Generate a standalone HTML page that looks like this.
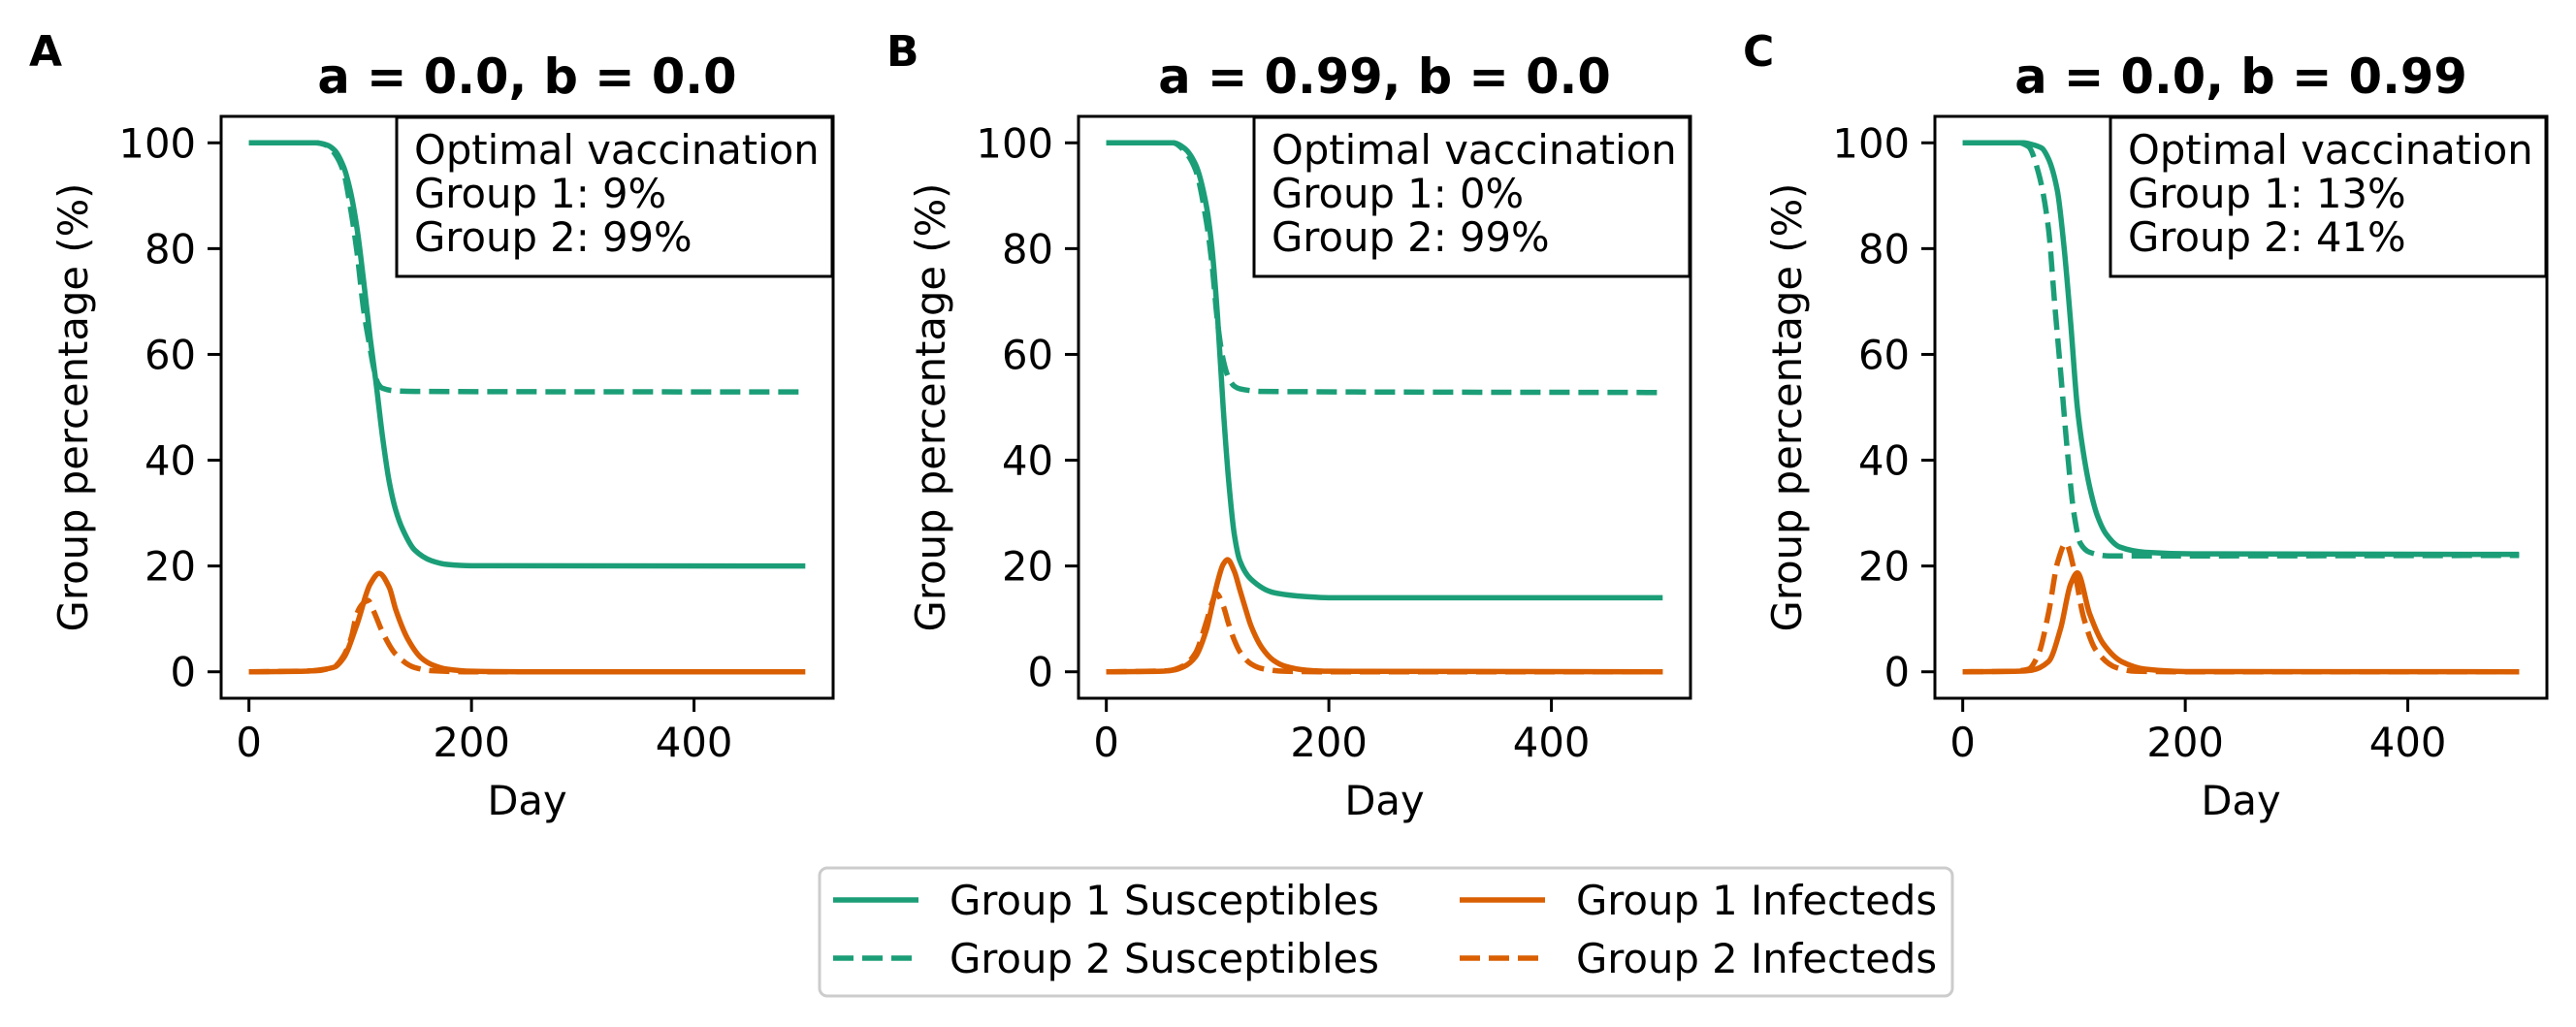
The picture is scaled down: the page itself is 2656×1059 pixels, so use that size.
<!DOCTYPE html>
<html><head><meta charset="utf-8"><style>
html,body{margin:0;padding:0;background:#fff;}
svg{display:block;font-family:"DejaVu Sans","Liberation Sans",sans-serif;}
</style></head><body>
<svg id="fig" width="2656" height="1059" viewBox="0 0 2656 1059" xmlns="http://www.w3.org/2000/svg"></svg>
<script>
// ---- data ----
const panelLetters = ["A","B","C"];
const panelTitles = ["a = 0.0, b = 0.0","a = 0.99, b = 0.0","a = 0.0, b = 0.99"];
const vaccG1 = ["9%","0%","13%"];
const vaccG2 = ["99%","99%","41%"];
const xTicks = [0,200,400];
const yTicks = [0,20,40,60,80,100];
const seriesNames = ["Group 1 Susceptibles","Group 2 Susceptibles","Group 1 Infecteds","Group 2 Infecteds"];

// Panel A
const A_S1_days = [0,60,70,77,85,91,97,103,109,114,120,126,132,138,149,164,178,200,500];
const A_S1_vals = [100,100,99.6,98.6,95.5,91,84,74,63,55,44.5,36,30.5,27,23,21,20.3,20.05,20];
const A_S2_days = [0,60,70,77,85,91,97,103,109,112,116,120,132,150,500];
const A_S2_vals = [100,100,99.5,98,94.5,88,79.5,68.5,61,57.5,54.5,53.6,53.1,53,52.9];
const A_I1_days = [0,50,65,77,85,97,109,117,126,132,143,155,165,178,200,250,500];
const A_I1_vals = [0,0.1,0.4,0.9,2.6,8.9,16.6,18.6,16,11.7,6.1,2.6,1.3,0.5,0.1,0,0];
const A_I2_days = [0,60,77,85,92,97,102,107,112,120,132,149,165,200,500];
const A_I2_vals = [0,0.2,1,3,6.5,11,12.8,13.5,11.5,7.5,3.3,0.8,0.2,0,0];
// Panel B
const B_S1_days = [0,60,70,80,90,95,100,105,110,115,120,130,150,180,200,500];
const B_S1_vals = [100,100,99,96,88,80,67,50,36,26,21,17.5,15,14.2,14,14];
const B_S2_days = [0,60,70,80,90,95,100,105,110,115,120,140,500];
const B_S2_vals = [100,100,98.5,95,85,77,66,59,55.5,54,53.5,53,52.8];
const B_I1_days = [0,50,60,70,80,90,95,100,105,109,115,120,125,130,140,150,160,180,200,500];
const B_I1_vals = [0,0.1,0.3,1,2.8,8,12.5,17,20.3,21.2,19,15.5,12,8.7,4.5,2.2,1.1,0.3,0.1,0];
const B_I2_days = [0,55,70,80,90,95,99,105,110,115,120,130,140,160,200,500];
const B_I2_vals = [0,0.2,1.2,3.5,9.5,13,14.8,12.5,9,6,3.8,1.5,0.6,0.1,0,0];
// Panel C
const C_S1_days = [0,55,62,71,77,85,91,97,103,108,114,121,129,141,164,207,500];
const C_S1_vals = [100,100,99.7,99,97,91,80.4,66,50,42,35,29.5,26,23.6,22.6,22.3,22.2];
const C_S2_days = [0,50,59,68,77,82.5,88.3,94,100,105.7,114,132,500];
const C_S2_vals = [100,100,99.3,94.4,83.9,69.9,55.9,41.8,29.9,24.3,22.6,21.9,22];
const C_I1_days = [0,50,62,77,88,97,103,114,126,143,164,200,500];
const C_I1_vals = [0,0.1,0.3,1.9,8.2,16.6,18.7,11,5.4,1.9,0.5,0.05,0];
const C_I2_days = [0,45,59,68,77,85.4,92.6,100,108.6,120,138,155,200,500];
const C_I2_vals = [0,0.1,0.5,3.3,11,20.8,24.3,19.4,10.3,4,0.8,0.1,0,0];

const panelSeries = [
  [[A_S1_days,A_S1_vals],[A_S2_days,A_S2_vals],[A_I1_days,A_I1_vals],[A_I2_days,A_I2_vals]],
  [[B_S1_days,B_S1_vals],[B_S2_days,B_S2_vals],[B_I1_days,B_I1_vals],[B_I2_days,B_I2_vals]],
  [[C_S1_days,C_S1_vals],[C_S2_days,C_S2_vals],[C_I1_days,C_I1_vals],[C_I2_days,C_I2_vals]]
];

// ---- layout ----
const GREEN="#1b9e77", ORANGE="#d95f02";
const seriesColor=[GREEN,GREEN,ORANGE,ORANGE];
const seriesDash=[null,"21 9",null,"21 9"];
const panelLeft=[228,1112,1995];
const PW=631, PT=120, PB=720;
const XMIN=-25, XMAX=525, YMIN=-5, YMAX=105;
const NS="http://www.w3.org/2000/svg";
const svg=document.getElementById('fig');
function mk(tag,attrs,parent){const e=document.createElementNS(NS,tag);for(const k in attrs)e.setAttribute(k,attrs[k]);(parent||svg).appendChild(e);return e;}

function monoPath(xs,ys){
  const n=xs.length; if(n<2) return "";
  const d=[],m=new Array(n);
  for(let i=0;i<n-1;i++) d.push((ys[i+1]-ys[i])/(xs[i+1]-xs[i]));
  m[0]=d[0]; m[n-1]=d[n-2];
  for(let i=1;i<n-1;i++){ if(d[i-1]*d[i]<=0) m[i]=0; else { const w1=2*(xs[i+1]-xs[i])+(xs[i]-xs[i-1]), w2=(xs[i+1]-xs[i])+2*(xs[i]-xs[i-1]); m[i]=(w1+w2)/(w1/d[i-1]+w2/d[i]); } }
  let p="M"+xs[0].toFixed(2)+","+ys[0].toFixed(2);
  for(let i=0;i<n-1;i++){const h=xs[i+1]-xs[i];
    p+=" C"+(xs[i]+h/3).toFixed(2)+","+(ys[i]+m[i]*h/3).toFixed(2)+" "+(xs[i+1]-h/3).toFixed(2)+","+(ys[i+1]-m[i+1]*h/3).toFixed(2)+" "+xs[i+1].toFixed(2)+","+ys[i+1].toFixed(2);}
  return p;
}

for(let p=0;p<3;p++){
  const L=panelLeft[p], R=L+PW;
  const xs=v=>L+(v-XMIN)/(XMAX-XMIN)*PW;
  const ys=v=>PB-(v-YMIN)/(YMAX-YMIN)*(PB-PT);
  const g=mk('g',{});
  
  

  const letter=mk('text',{x:L-198,y:68,'font-size':44,'font-weight':'bold',fill:'#000'},g);
  letter.textContent=panelLetters[p];
  
  

  const title=mk('text',{x:L+PW/2,y:96,'font-size':49.5,'font-weight':'bold','text-anchor':'middle',fill:'#000'},g);
  title.textContent=panelTitles[p];
  
  

  const clip=mk('clipPath',{id:'clip'+p},g);
  mk('rect',{x:L,y:PT,width:PW,height:PB-PT},clip);
  const sg=mk('g',{'clip-path':'url(#clip'+p+')'},g);
  const order=[2,3,0,1];
  for(const s of order){
    const [dd,vv]=panelSeries[p][s];
    const px=dd.map(xs), py=vv.map(ys);
    const path=mk('path',{d:monoPath(px,py),fill:'none',stroke:seriesColor[s],'stroke-width':5.5,'stroke-linejoin':'round'},sg);
    if(seriesDash[s]) path.setAttribute('stroke-dasharray',seriesDash[s]);
    
    
  }

  const box=mk('g',{},g);
  
  
  mk('rect',{x:L+181,y:121,width:PW-181-1,height:164,fill:'#fff',stroke:'#000','stroke-width':3},box);
  const lines=["Optimal vaccination","Group 1: "+vaccG1[p],"Group 2: "+vaccG2[p]];
  lines.forEach((t,i)=>{const tx=mk('text',{x:L+199,y:169+i*45,'font-size':41.7,fill:'#000'},box);tx.textContent=t;});

  const frame=mk('rect',{x:L,y:PT,width:PW,height:PB-PT,fill:'none',stroke:'#000','stroke-width':3},g);
  
  

  xTicks.forEach(t=>{const x=xs(t);
    mk('line',{x1:x,y1:PB,x2:x,y2:PB+14,stroke:'#000','stroke-width':3},g);
    const tl=mk('text',{x:x,y:780,'font-size':41.7,'text-anchor':'middle',fill:'#000'},g);
    tl.textContent=t;
    
    
  });
  yTicks.forEach(t=>{const y=ys(t);
    mk('line',{x1:L-14,y1:y,x2:L,y2:y,stroke:'#000','stroke-width':3},g);
    const tl=mk('text',{x:L-26,y:y+15,'font-size':41.7,'text-anchor':'end',fill:'#000'},g);
    tl.textContent=t;
    
    
  });
  const xl=mk('text',{x:L+PW/2,y:840,'font-size':41.7,'text-anchor':'middle',fill:'#000'},g);
  xl.textContent="Day";
  
  
  const yl=mk('text',{x:0,y:0,'font-size':41.7,'text-anchor':'middle',fill:'#000',transform:'translate('+(L-138)+','+((PT+PB)/2)+') rotate(-90)'},g);
  yl.textContent="Group percentage (%)";
  
  
}

const lg=mk('g',{});


mk('rect',{x:845,y:895,width:1168,height:132,rx:8,fill:'#fff',stroke:'#cccccc','stroke-width':3},lg);
const legPos=[[859,928],[859,988],[1505,928],[1505,988]];
for(let s=0;s<4;s++){
  const [hx,hy]=legPos[s];
  const e=mk('g',{},lg);
  
  
  const hl=mk('line',{x1:hx,y1:hy,x2:hx+88,y2:hy,stroke:seriesColor[s],'stroke-width':5.5},e);
  if(seriesDash[s]) hl.setAttribute('stroke-dasharray',"21 9");
  const t=mk('text',{x:hx+120,y:hy+15,'font-size':41.7,fill:'#000'},e);
  t.textContent=seriesNames[s];
}
</script>
</body></html>
